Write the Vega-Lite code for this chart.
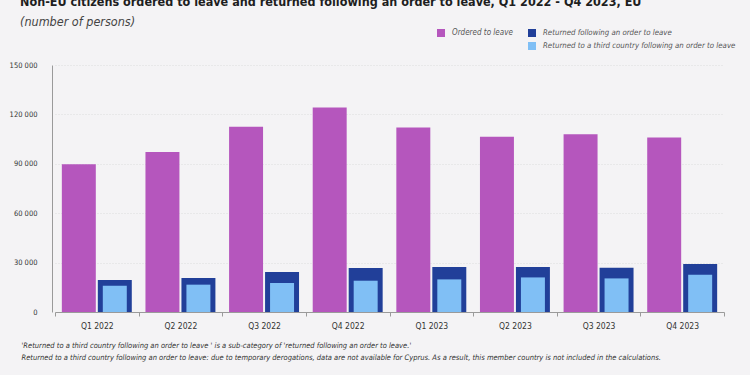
{
  "$schema": "https://vega.github.io/schema/vega-lite/v6.json",
  "width": 669,
  "height": 247,
  "autosize": {"type": "none"},
  "padding": {"left": 55, "top": 65, "right": 26, "bottom": 63},
  "background": "#f4f3f5",
  "title": {
    "text": "Non-EU citizens ordered to leave and returned following an order to leave, Q1 2022 - Q4 2023, EU",
    "subtitle": "(number of persons)",
    "anchor": "start",
    "frame": "group",
    "dx": -35,
    "font": "DejaVu Sans Condensed, sans-serif",
    "fontSize": 12.5,
    "fontWeight": "bold",
    "color": "#1e1e1e",
    "subtitleFont": "DejaVu Sans Condensed, sans-serif",
    "subtitleFontSize": 12.5,
    "subtitleFontStyle": "italic",
    "subtitleColor": "#444444",
    "subtitlePadding": 7,
    "offset": 1,
    "limit": 0
  },
  "config": {
    "view": {"stroke": null},
    "font": "DejaVu Sans Condensed, sans-serif"
  },
  "resolve": {"scale": {"xOffset": "independent"}},
  "data": {
    "values": [
      {"quarter": "Q1 2022", "series": "Ordered to leave", "group": "A", "value": 89800},
      {"quarter": "Q1 2022", "series": "Returned following an order to leave", "group": "B", "value": 19400},
      {"quarter": "Q1 2022", "series": "Returned to a third country following an order to leave", "group": "B", "value": 16000},
      {"quarter": "Q2 2022", "series": "Ordered to leave", "group": "A", "value": 97200},
      {"quarter": "Q2 2022", "series": "Returned following an order to leave", "group": "B", "value": 20600},
      {"quarter": "Q2 2022", "series": "Returned to a third country following an order to leave", "group": "B", "value": 16600},
      {"quarter": "Q3 2022", "series": "Ordered to leave", "group": "A", "value": 112500},
      {"quarter": "Q3 2022", "series": "Returned following an order to leave", "group": "B", "value": 24300},
      {"quarter": "Q3 2022", "series": "Returned to a third country following an order to leave", "group": "B", "value": 17600},
      {"quarter": "Q4 2022", "series": "Ordered to leave", "group": "A", "value": 124200},
      {"quarter": "Q4 2022", "series": "Returned following an order to leave", "group": "B", "value": 26700},
      {"quarter": "Q4 2022", "series": "Returned to a third country following an order to leave", "group": "B", "value": 19000},
      {"quarter": "Q1 2023", "series": "Ordered to leave", "group": "A", "value": 112000},
      {"quarter": "Q1 2023", "series": "Returned following an order to leave", "group": "B", "value": 27300},
      {"quarter": "Q1 2023", "series": "Returned to a third country following an order to leave", "group": "B", "value": 19800},
      {"quarter": "Q2 2023", "series": "Ordered to leave", "group": "A", "value": 106500},
      {"quarter": "Q2 2023", "series": "Returned following an order to leave", "group": "B", "value": 27300},
      {"quarter": "Q2 2023", "series": "Returned to a third country following an order to leave", "group": "B", "value": 21000},
      {"quarter": "Q3 2023", "series": "Ordered to leave", "group": "A", "value": 108000},
      {"quarter": "Q3 2023", "series": "Returned following an order to leave", "group": "B", "value": 26900},
      {"quarter": "Q3 2023", "series": "Returned to a third country following an order to leave", "group": "B", "value": 20400},
      {"quarter": "Q4 2023", "series": "Ordered to leave", "group": "A", "value": 105900},
      {"quarter": "Q4 2023", "series": "Returned following an order to leave", "group": "B", "value": 29100},
      {"quarter": "Q4 2023", "series": "Returned to a third country following an order to leave", "group": "B", "value": 22600}
    ]
  },
  "encoding": {
    "x": {
      "field": "quarter",
      "type": "nominal",
      "sort": null,
      "scale": {"paddingInner": 0, "paddingOuter": 0},
      "axis": {
        "title": [
          "'Returned to a third country following an order to leave ' is a sub-category of 'returned following an order to leave.'",
          "Returned to a third country following an order to leave: due to temporary derogations, data are not available for Cyprus. As a result, this member country is not included in the calculations."
        ],
        "titleFont": "DejaVu Sans Condensed, sans-serif",
        "titleFontSize": 7.5,
        "titleFontStyle": "italic",
        "titleFontWeight": "normal",
        "titleColor": "#333333",
        "titleAlign": "left",
        "titleAnchor": "start",
        "titleBaseline": "alphabetic",
        "titleX": -34,
        "titleY": 35,
        "titleLineHeight": 12,
        "labelAngle": 0,
        "labelFontSize": 8.5,
        "labelColor": "#333333",
        "labelPadding": 5,
        "tickBand": "extent",
        "tickSize": 4,
        "tickColor": "#9a9a9a",
        "domainColor": "#9a9a9a",
        "grid": false
      }
    },
    "y": {
      "field": "value",
      "type": "quantitative",
      "scale": {"domain": [0, 150000], "nice": false},
      "axis": {
        "title": null,
        "values": [0, 30000, 60000, 90000, 120000, 150000],
        "labelExpr": "replace(format(datum.value, ','), ',', ' ')",
        "labelFontSize": 7.5,
        "labelColor": "#333333",
        "labelPadding": 15,
        "ticks": false,
        "offset": 3,
        "domainColor": "#9a9a9a",
        "gridColor": "#dcdcdc",
        "gridDash": [1, 2],
        "gridWidth": 1
      }
    }
  },
  "layer": [
    {
      "transform": [{"filter": "datum.series === 'Ordered to leave'"}],
      "mark": {"type": "bar"},
      "encoding": {
        "xOffset": {
          "field": "group",
          "type": "nominal",
          "scale": {"domain": ["A", "B"], "paddingInner": 0.056, "paddingOuter": 0.19}
        },
        "color": {
          "field": "series",
          "type": "nominal",
          "scale": {"domain": ["Ordered to leave"], "range": ["#b556bd"]},
          "legend": {
            "title": null,
            "orient": "none",
            "legendX": 382,
            "legendY": -36,
            "padding": 0,
            "symbolType": "square",
            "symbolSize": 64,
            "symbolStrokeWidth": 0,
            "labelFontSize": 8,
            "labelFontStyle": "italic",
            "labelColor": "#555555",
            "labelOffset": 7,
            "labelLimit": 300
          }
        }
      }
    },
    {
      "transform": [{"filter": "datum.series === 'Returned following an order to leave'"}],
      "mark": {"type": "bar"},
      "encoding": {
        "xOffset": {
          "field": "group",
          "type": "nominal",
          "scale": {"domain": ["A", "B"], "paddingInner": 0.056, "paddingOuter": 0.19}
        },
        "fill": {
          "field": "series",
          "type": "nominal",
          "scale": {
            "domain": ["Returned following an order to leave", "Returned to a third country following an order to leave"],
            "range": ["#213f99", "#80bff5"]
          },
          "legend": {
            "title": null,
            "orient": "none",
            "legendX": 473,
            "legendY": -36,
            "padding": 0,
            "rowPadding": 5,
            "symbolType": "square",
            "symbolSize": 64,
            "symbolStrokeWidth": 0,
            "labelFontSize": 7.8,
            "labelFontStyle": "italic",
            "labelColor": "#555555",
            "labelOffset": 7,
            "labelLimit": 400
          }
        }
      }
    },
    {
      "transform": [{"filter": "datum.series === 'Returned to a third country following an order to leave'"}],
      "mark": {"type": "bar"},
      "encoding": {
        "xOffset": {
          "field": "group",
          "type": "nominal",
          "scale": {"domain": ["A", "B"], "paddingInner": 0.333, "paddingOuter": 0.329}
        },
        "fill": {"field": "series", "type": "nominal"}
      }
    }
  ]
}
